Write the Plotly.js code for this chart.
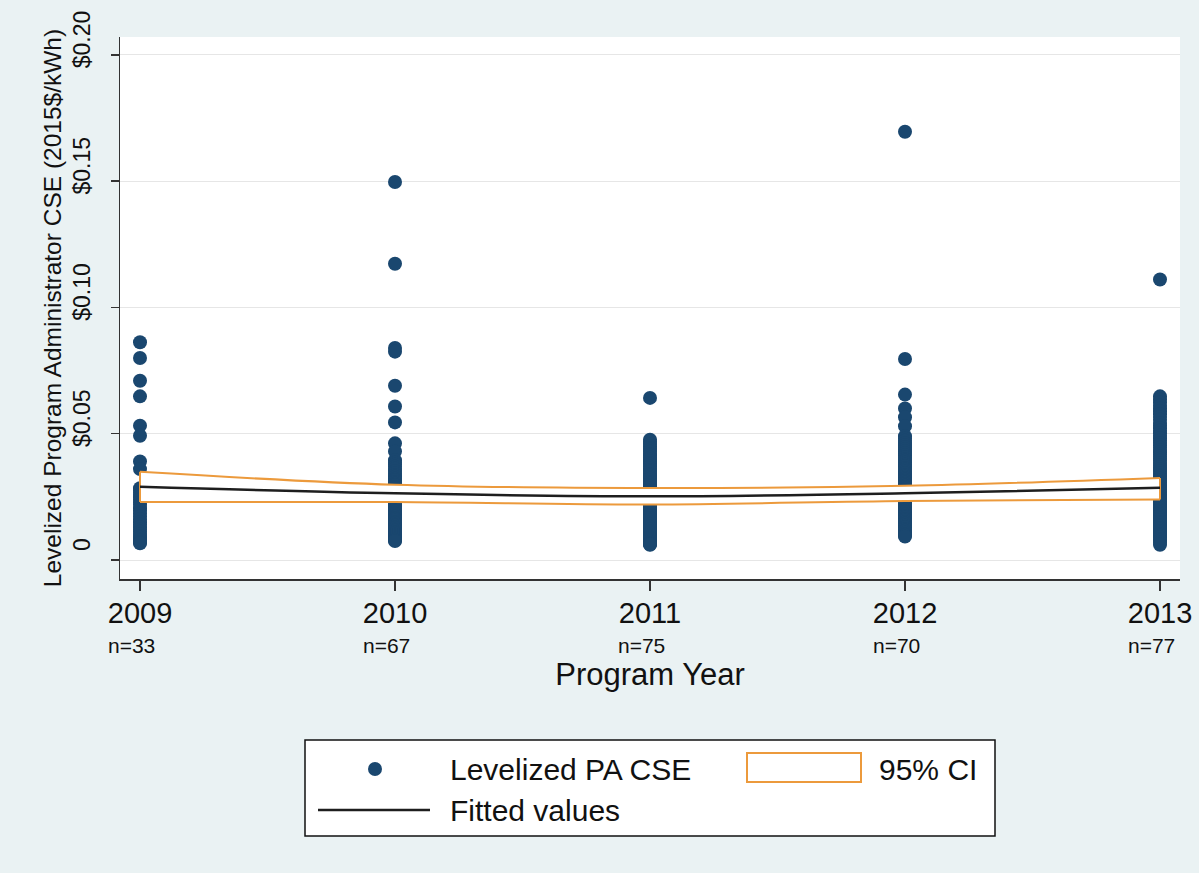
<!DOCTYPE html>
<html>
<head>
<meta charset="utf-8">
<script src="https://cdn.plot.ly/plotly-3.0.1.min.js"></script>
<style>html,body{margin:0;padding:0;background:#eaf2f3;}#chart{width:1199px;height:873px;}</style>
</head>
<body>
<div id="chart"></div>
<script>
// ---------------- data ----------------
const years = [2009, 2010, 2011, 2012, 2013];
const nLabels = ['n=33', 'n=67', 'n=75', 'n=70', 'n=77'];
const seriesNames = ['Levelized PA CSE', '95% CI', 'Fitted values'];
const xAxisTitle = 'Program Year';
const yAxisTitle = 'Levelized Program Administrator CSE (2015$/kWh)';
const yTickVals = [0, 0.05, 0.10, 0.15, 0.20];
const yTickText = ['0', '$0.05', '$0.10', '$0.15', '$0.20'];

const cse2009 = [0.0862, 0.0800, 0.0710, 0.0648, 0.0532, 0.0492, 0.0390, 0.0360,
  0.0284, 0.0275, 0.0266, 0.0258, 0.0249, 0.0240, 0.0228, 0.0219, 0.0205, 0.0196,
  0.0184, 0.0172, 0.0161, 0.0150, 0.0141, 0.0130, 0.0121, 0.0112, 0.0103, 0.0095,
  0.0088, 0.0081, 0.0076, 0.0070, 0.0066];
const cse2010 = [0.1497, 0.1173, 0.0840, 0.0825, 0.0690, 0.0608, 0.0545, 0.0462, 0.0430,
  0.0395, 0.0386, 0.0378, 0.0369, 0.0361, 0.0352, 0.0345, 0.0337, 0.0330, 0.0322,
  0.0316, 0.0309, 0.0302, 0.0296, 0.0289, 0.0283, 0.0277, 0.0271, 0.0265, 0.0259,
  0.0253, 0.0248, 0.0242, 0.0237, 0.0231, 0.0226, 0.0221, 0.0216, 0.0211, 0.0206,
  0.0201, 0.0196, 0.0191, 0.0186, 0.0181, 0.0176, 0.0171, 0.0166, 0.0161, 0.0156,
  0.0151, 0.0146, 0.0141, 0.0136, 0.0131, 0.0126, 0.0121, 0.0116, 0.0111, 0.0106,
  0.0101, 0.0097, 0.0093, 0.0089, 0.0085, 0.0081, 0.0078, 0.0075];
const cse2011 = [0.0642,
  0.0476, 0.0468, 0.0459, 0.0450, 0.0444, 0.0437, 0.0429, 0.0420, 0.0414, 0.0405,
  0.0398, 0.0391, 0.0383, 0.0377, 0.0369, 0.0362, 0.0356, 0.0349, 0.0341, 0.0335,
  0.0328, 0.0322, 0.0315, 0.0309, 0.0302, 0.0296, 0.0290, 0.0283, 0.0277, 0.0271,
  0.0266, 0.0259, 0.0253, 0.0248, 0.0242, 0.0236, 0.0231, 0.0225, 0.0219, 0.0214,
  0.0208, 0.0203, 0.0197, 0.0192, 0.0187, 0.0181, 0.0176, 0.0171, 0.0166, 0.0160,
  0.0155, 0.0150, 0.0145, 0.0140, 0.0135, 0.0130, 0.0125, 0.0120, 0.0115, 0.0110,
  0.0106, 0.0101, 0.0097, 0.0092, 0.0088, 0.0084, 0.0080, 0.0076, 0.0073, 0.0070,
  0.0067, 0.0065, 0.0062, 0.0060];
const cse2012 = [0.1696, 0.0796, 0.0655, 0.0600, 0.0565, 0.0530,
  0.0490, 0.0481, 0.0472, 0.0463, 0.0455, 0.0447, 0.0439, 0.0431, 0.0423, 0.0415,
  0.0408, 0.0400, 0.0393, 0.0386, 0.0378, 0.0371, 0.0364, 0.0357, 0.0350, 0.0344,
  0.0337, 0.0331, 0.0324, 0.0318, 0.0312, 0.0306, 0.0300, 0.0294, 0.0288, 0.0282,
  0.0277, 0.0271, 0.0266, 0.0260, 0.0255, 0.0249, 0.0244, 0.0239, 0.0234, 0.0229,
  0.0224, 0.0219, 0.0214, 0.0209, 0.0204, 0.0199, 0.0194, 0.0189, 0.0184, 0.0179,
  0.0174, 0.0168, 0.0162, 0.0156, 0.0150, 0.0144, 0.0137, 0.0130, 0.0123, 0.0116,
  0.0109, 0.0103, 0.0098, 0.0093];
const cse2013 = [0.1111,
  0.0648, 0.0636, 0.0624, 0.0611, 0.0600, 0.0589, 0.0577, 0.0566, 0.0555, 0.0543,
  0.0533, 0.0522, 0.0512, 0.0502, 0.0492, 0.0482, 0.0473, 0.0463, 0.0454, 0.0445,
  0.0436, 0.0427, 0.0418, 0.0409, 0.0401, 0.0393, 0.0384, 0.0376, 0.0368, 0.0360,
  0.0352, 0.0345, 0.0337, 0.0330, 0.0322, 0.0315, 0.0308, 0.0301, 0.0294, 0.0287,
  0.0280, 0.0273, 0.0267, 0.0260, 0.0254, 0.0247, 0.0241, 0.0235, 0.0229, 0.0223,
  0.0217, 0.0211, 0.0205, 0.0199, 0.0193, 0.0187, 0.0181, 0.0175, 0.0169, 0.0163,
  0.0157, 0.0151, 0.0145, 0.0139, 0.0133, 0.0127, 0.0121, 0.0115, 0.0109, 0.0103,
  0.0097, 0.0090, 0.0083, 0.0076, 0.0068, 0.0060];

const fitted  = [0.0290, 0.0264, 0.0252, 0.0264, 0.0286];
const ciUpper = [0.0349, 0.0298, 0.0285, 0.0294, 0.0325];
const ciLower = [0.0230, 0.0230, 0.0220, 0.0234, 0.0240];

// ---------------- styling ----------------
const FONT = 'Liberation Sans, Arial, sans-serif';
const NAVY = '#1a476f';
const ORANGE = '#ec9a3c';
const TXT = '#111111';
const W = 1199, H = 873;
const M = {l: 120, r: 19, t: 37, b: 294};
const PW = W - M.l - M.r, PH = H - M.t - M.b;
const X = p => (p - M.l) / PW;            // pixel -> paper x
const Y = p => (H - M.b - p) / PH;         // pixel -> paper y

const perYear = [cse2009, cse2010, cse2011, cse2012, cse2013];
const scX = [], scY = [];
perYear.forEach((arr, i) => arr.forEach(v => { scX.push(years[i]); scY.push(v); }));

const last = years.length - 1;
const traces = [
  {type: 'scatter', mode: 'markers', name: seriesNames[0], x: scX, y: scY,
   marker: {color: NAVY, size: 14}, showlegend: false, hoverinfo: 'x+y'},
  {type: 'scatter', mode: 'lines', name: seriesNames[1], x: years, y: ciUpper,
   line: {color: ORANGE, width: 2, shape: 'spline'}, showlegend: false},
  {type: 'scatter', mode: 'lines', name: seriesNames[1], x: years, y: ciLower,
   line: {color: ORANGE, width: 2, shape: 'spline'}, fill: 'tonexty', fillcolor: '#ffffff', showlegend: false},
  {type: 'scatter', mode: 'lines', name: seriesNames[1], x: [years[0], years[0]], y: [ciLower[0], ciUpper[0]],
   line: {color: ORANGE, width: 2}, showlegend: false},
  {type: 'scatter', mode: 'lines', name: seriesNames[1], x: [years[last], years[last]], y: [ciLower[last], ciUpper[last]],
   line: {color: ORANGE, width: 2}, showlegend: false},
  {type: 'scatter', mode: 'lines', name: seriesNames[2], x: years, y: fitted,
   line: {color: '#1e1e1e', width: 2.5, shape: 'spline'}, showlegend: false}
];

// n= labels under the year tick labels
const annotations = years.map((yr, i) => ({
  x: yr, xref: 'x', y: Y(645), yref: 'paper', text: nLabels[i], showarrow: false,
  xanchor: 'left', yanchor: 'middle', xshift: -34,
  font: {family: FONT, size: 21, color: TXT}
}));
// legend texts
const legFont = {family: FONT, size: 30, color: TXT};
annotations.push(
  {x: X(448), y: Y(769), xref: 'paper', yref: 'paper', text: seriesNames[0], showarrow: false, xanchor: 'left', yanchor: 'middle', font: legFont},
  {x: X(877), y: Y(769), xref: 'paper', yref: 'paper', text: seriesNames[1], showarrow: false, xanchor: 'left', yanchor: 'middle', font: legFont},
  {x: X(448), y: Y(810), xref: 'paper', yref: 'paper', text: seriesNames[2], showarrow: false, xanchor: 'left', yanchor: 'middle', font: legFont}
);

const shapes = [
  {type: 'rect', xref: 'paper', yref: 'paper', x0: X(305), x1: X(995), y0: Y(740), y1: Y(836),
   line: {color: '#111', width: 1.5}, fillcolor: '#ffffff'},
  {type: 'circle', xref: 'paper', yref: 'paper', x0: X(368), x1: X(382), y0: Y(762), y1: Y(776),
   line: {width: 0}, fillcolor: NAVY},
  {type: 'rect', xref: 'paper', yref: 'paper', x0: X(747), x1: X(861), y0: Y(753), y1: Y(782),
   line: {color: ORANGE, width: 2}, fillcolor: '#ffffff'},
  {type: 'line', xref: 'paper', yref: 'paper', x0: X(318), x1: X(430), y0: Y(810), y1: Y(810),
   line: {color: '#1e1e1e', width: 2.5}}
];

const layout = {
  width: W, height: H,
  margin: M,
  paper_bgcolor: '#eaf2f3',
  plot_bgcolor: '#ffffff',
  showlegend: false,
  font: {family: FONT, color: TXT},
  xaxis: {
    range: [years[0] - 20 / 255, years[last] + 20 / 255],
    tickvals: years, ticktext: years.map(String),
    tickfont: {family: FONT, size: 29, color: TXT},
    ticklabelstandoff: -2,
    ticks: 'outside', ticklen: 10, tickwidth: 1.5, tickcolor: '#333',
    showline: true, linecolor: '#333', linewidth: 1.5,
    showgrid: false, zeroline: false, automargin: false,
    title: {text: xAxisTitle, font: {family: FONT, size: 31, color: TXT}, standoff: 35}
  },
  yaxis: {
    range: [-0.00752, 0.2071],
    tickvals: yTickVals, ticktext: yTickText, tickangle: -90,
    tickfont: {family: FONT, size: 23, color: TXT},
    ticklabelshift: -12, ticklabelstandoff: 11,
    ticks: 'outside', ticklen: 8, tickwidth: 1.5, tickcolor: '#333',
    showline: true, linecolor: '#333', linewidth: 1.5,
    showgrid: true, gridcolor: '#e6e6e6', gridwidth: 1, zeroline: false, automargin: false,
    title: {text: yAxisTitle, font: {family: FONT, size: 24.5, color: TXT}, standoff: 0}
  },
  shapes: shapes,
  annotations: annotations
};

Plotly.newPlot('chart', traces, layout, {displayModeBar: false, staticPlot: true});
</script>
</body>
</html>
